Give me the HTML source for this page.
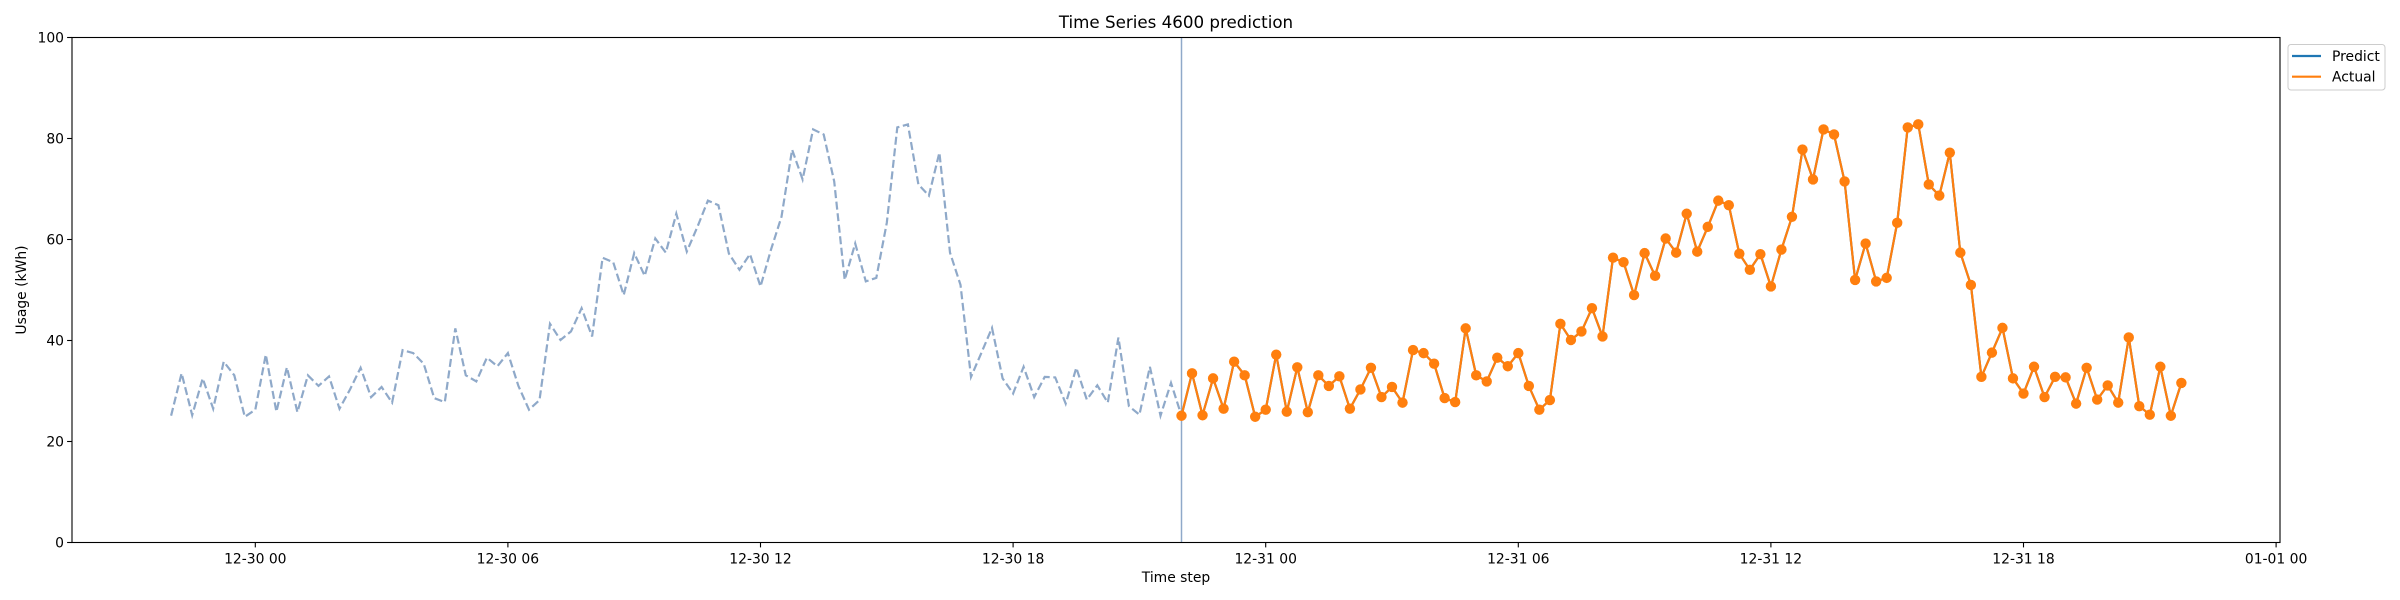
<!DOCTYPE html>
<html><head><meta charset="utf-8"><style>
html,body{margin:0;padding:0;background:#fff;}
svg{display:block;font-family:"DejaVu Sans","Liberation Sans",sans-serif;}
</style></head><body>
<svg id="chart" width="2400" height="600" viewBox="0 0 2400 600">
<rect x="0" y="0" width="2400" height="600" fill="#fff"/>
<text x="1176" y="28" font-size="16.7" text-anchor="middle" fill="#000">Time Series 4600 prediction</text>
<text x="1176" y="582" font-size="13.9" text-anchor="middle" fill="#000">Time step</text>
<text transform="translate(26,290) rotate(-90)" font-size="13.9" text-anchor="middle" fill="#000">Usage (kWh)</text>
<g id="series"></g>
<rect x="72" y="37.5" width="2208" height="505" fill="none" stroke="#000" stroke-width="1.1"/>
<g id="axes"></g>
<g>
<rect x="2288" y="44.5" width="97" height="45.5" rx="3" fill="#fff" stroke="#ccc" stroke-width="1"/>
<line x1="2292" y1="56" x2="2321" y2="56" stroke="#1f77b4" stroke-width="2.2"/>
<text x="2332" y="61" font-size="13.9" fill="#000">Predict</text>
<line x1="2292" y1="76.7" x2="2321" y2="76.7" stroke="#ff7f0e" stroke-width="2.2"/>
<text x="2332" y="81.7" font-size="13.9" fill="#000">Actual</text>
</g>
</svg>
<script>
const actualValues = [25.1,33.5,25.2,32.5,26.5,35.8,33.1,24.9,26.3,37.2,25.9,34.7,25.8,33.1,31.0,32.9,26.5,30.3,34.6,28.8,30.8,27.7,38.1,37.5,35.4,28.6,27.8,42.4,33.1,31.9,36.6,34.9,37.5,31.0,26.3,28.2,43.3,40.1,41.8,46.4,40.8,56.4,55.5,49.0,57.3,52.8,60.2,57.4,65.1,57.6,62.5,67.7,66.8,57.2,54.0,57.1,50.7,58.0,64.5,77.8,71.9,81.8,80.8,71.5,52.0,59.2,51.7,52.4,63.3,82.2,82.8,70.9,68.7,77.2,57.4,51.0,32.8,37.6,42.5,32.5,29.5,34.8,28.8,32.8,32.7,27.5,34.6,28.3,31.1,27.7,40.6,27.0,25.3,34.8,25.1,31.6];
const predictValues = actualValues.slice();
const historyValues = actualValues.concat([25.1]);
const yTicks = [0,20,40,60,80,100];
const xTickLabels = ["12-30 00","12-30 06","12-30 12","12-30 18","12-31 00","12-31 06","12-31 12","12-31 18","01-01 00"];

const NS = "http://www.w3.org/2000/svg";
const X0 = 72, X1 = 2280, YT = 37.5, YB = 542.5;
const pxPerHour = 42.1, xZero = 255.3;
function xScale(h){ return xZero + h * pxPerHour; }
function yScale(v){ return YB - (v / 100) * (YB - YT); }
function mk(tag, attrs, parent){ const e = document.createElementNS(NS, tag); for (const k in attrs) e.setAttribute(k, attrs[k]); parent.appendChild(e); return e; }

const axes = document.getElementById('axes');
const series = document.getElementById('series');

yTicks.forEach(v => {
  const y = yScale(v);
  const t = mk('line', {x1: X0 - 4.9, x2: X0, y1: y, y2: y, stroke: '#000', 'stroke-width': 1.1}, axes);
  
  
  const l = mk('text', {x: X0 - 8, y: y + 5, 'font-size': 13.9, 'text-anchor': 'end', fill: '#000'}, axes);
  l.textContent = v;
  
  
});
xTickLabels.forEach((lab, i) => {
  const x = xScale(i * 6);
  const t = mk('line', {x1: x, x2: x, y1: YB, y2: YB + 4.9, stroke: '#000', 'stroke-width': 1.1}, axes);
  
  
  const l = mk('text', {x: x, y: YB + 21, 'font-size': 13.9, 'text-anchor': 'middle', fill: '#000'}, axes);
  l.textContent = lab;
  
  
});

const histStart = -2, actStart = 22, step = 0.25;
const hp = historyValues.map((v, i) => xScale(histStart + i * step).toFixed(1) + ',' + yScale(v).toFixed(1)).join(' ');
const hl = mk('polyline', {points: hp, fill: 'none', stroke: '#8fa9c9', 'stroke-width': 2.2, 'stroke-dasharray': '8,3.6'}, series);



const vx = xScale(actStart);
const vl = mk('line', {x1: vx, x2: vx, y1: YT, y2: YB, stroke: '#8fa9c9', 'stroke-width': 1.5}, series);



const pp = predictValues.map((v, i) => xScale(actStart + i * step).toFixed(1) + ',' + yScale(v).toFixed(1)).join(' ');
const pl = mk('polyline', {points: pp, fill: 'none', stroke: '#1f77b4', 'stroke-width': 2.2}, series);



const ap = actualValues.map((v, i) => xScale(actStart + i * step).toFixed(1) + ',' + yScale(v).toFixed(1)).join(' ');
const al = mk('polyline', {points: ap, fill: 'none', stroke: '#ff7f0e', 'stroke-width': 2.2}, series);


actualValues.forEach((v, i) => {
  const c = mk('circle', {cx: xScale(actStart + i * step), cy: yScale(v), r: 5.2, fill: '#ff7f0e'}, series);
  
  
});
</script>
</body></html>
